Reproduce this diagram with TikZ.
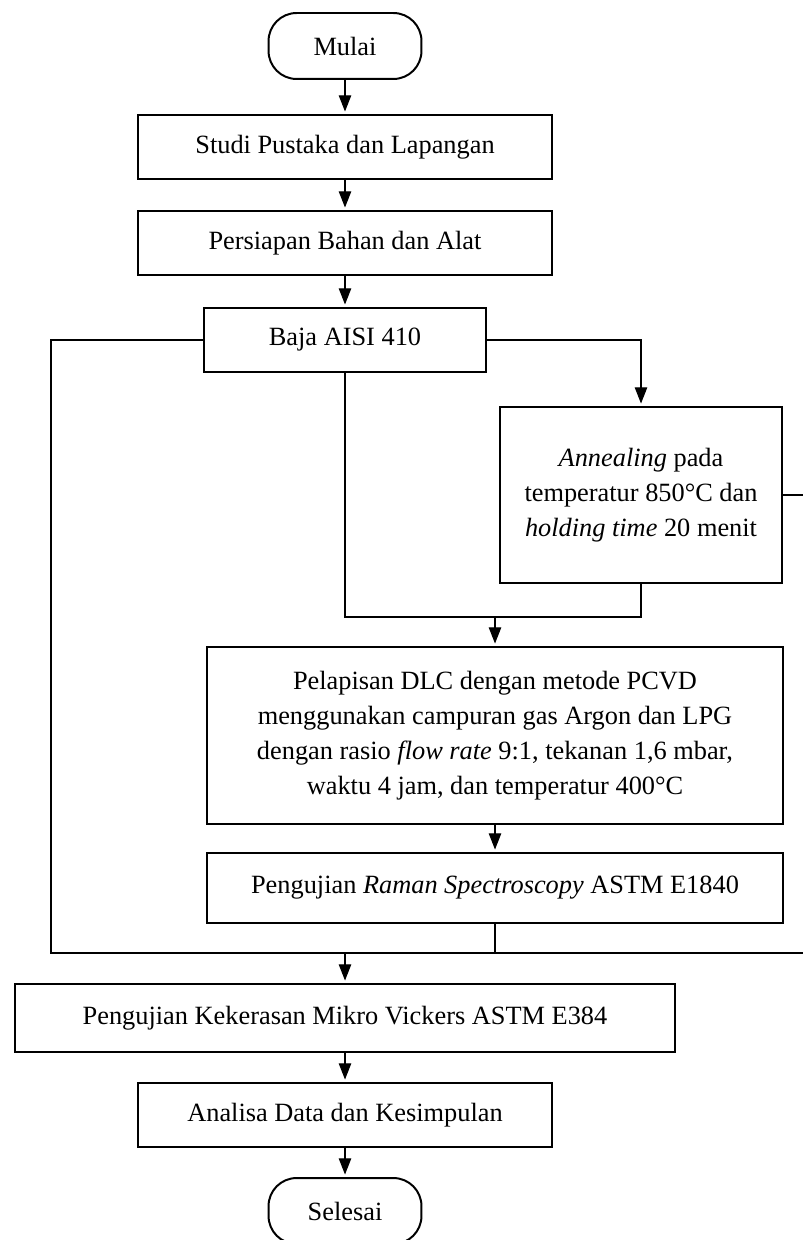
\documentclass[tikz,border=0pt]{standalone}
\usepackage{fontspec}
\setmainfont{Liberation Serif}
\usepackage{tikz}
\usepackage{xcolor}
\usetikzlibrary{calc,arrows.meta}
\tikzset{
flowBox/.style={draw,line width=0.9pt,minimum height=1.024cm,align=center,inner sep=2pt,font=\fontsize{12}{16}\selectfont},
termBox/.style={flowBox,rounded corners=0.45cm,minimum width=2.448cm,minimum height=1.056cm},
connLine/.style={line width=0.5pt},
connArrow/.style={connLine,-{Triangle[length=0.26cm,width=0.2cm]},shorten >=0.04cm}
}

\begin{document}
\begin{tikzpicture}[x=0.016cm,y=-0.016cm]
\useasboundingbox (0,0) rectangle (803,1240);
\node[termBox] (mulai) at (345,46) {Mulai};
\node[flowBox,minimum width=6.64cm] (studi) at (345,147) {Studi Pustaka dan Lapangan};
\node[flowBox,minimum width=6.64cm] (persiapan) at (345,243) {Persiapan Bahan dan Alat};
\node[flowBox,minimum width=4.512cm] (baja) at (345,340) {Baja AISI 410};
\node[flowBox,minimum width=4.512cm,minimum height=2.816cm] (annealing) at (641,495) {\textit{Annealing} pada\\temperatur 850°C dan\\\textit{holding time} 20 menit};
\node[flowBox,minimum width=9.216cm,minimum height=2.832cm] (pcvd) at (495,735.5) {Pelapisan DLC dengan metode PCVD\\menggunakan campuran gas Argon dan LPG\\dengan rasio \textit{flow rate} 9:1, tekanan 1,6 mbar,\\waktu 4 jam, dan temperatur 400°C};
\node[flowBox,minimum width=9.216cm,minimum height=1.12cm] (raman) at (495,888) {Pengujian \textit{Raman Spectroscopy} ASTM E1840};
\node[flowBox,minimum width=10.56cm,minimum height=1.088cm] (vickers) at (345,1018) {Pengujian Kekerasan Mikro Vickers ASTM E384};
\node[flowBox,minimum width=6.624cm] (analisa) at (345,1115) {Analisa Data dan Kesimpulan};
\node[termBox] (selesai) at (345,1211) {Selesai};

\coordinate (kiriBawah) at (51,953);
\coordinate (kananBawah) at (803,953);
\coordinate (gabung) at (495,617);

\draw[connArrow] (mulai) -- (studi);
\draw[connArrow] (studi) -- (persiapan);
\draw[connArrow] (persiapan) -- (baja);
\draw[connArrow] (baja.east) -| (annealing.north);
\draw[connLine] (baja.west) -| (kiriBawah) -- (kananBawah);
\draw[connLine] (baja.south) |- (annealing.south |- gabung) -- (annealing.south);
\draw[connLine] (annealing.east) -- (annealing.east -| kananBawah);
\draw[connArrow] (gabung) -- (pcvd.north);
\draw[connArrow] (pcvd) -- (raman);
\draw[connLine] (raman.south) -- (raman.south |- kananBawah);
\draw[connArrow] (baja.south |- kiriBawah) -- (vickers.north);
\draw[connArrow] (vickers) -- (analisa);
\draw[connArrow] (analisa) -- (selesai);
\end{tikzpicture}
\end{document}
